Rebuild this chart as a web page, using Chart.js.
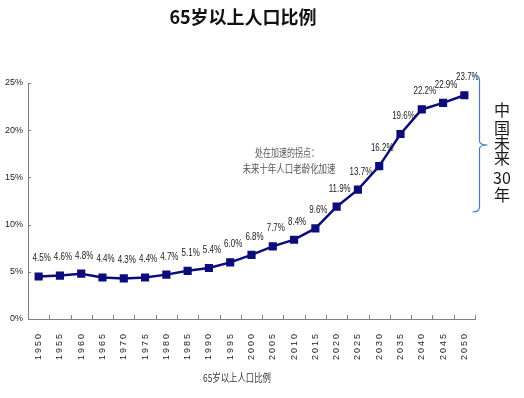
<!DOCTYPE html>
<html>
<head>
<meta charset="utf-8">
<script src="https://cdn.jsdelivr.net/npm/chart.js@4/dist/chart.umd.min.js"></script>
<style>
  html, body { margin: 0; padding: 0; background: #fff; }
  #wrap { width: 524px; height: 398px; }
</style>
</head>
<body>
<div id="wrap"><canvas id="ratioChart" width="524" height="398"></canvas></div>
<script>
const years = ['1950', '1955', '1960', '1965', '1970', '1975', '1980', '1985', '1990', '1995',
  '2000', '2005', '2010', '2015', '2020', '2025', '2030', '2035', '2040', '2045', '2050']
const share65 = [4.5, 4.6, 4.8, 4.4, 4.3, 4.4, 4.7, 5.1, 5.4, 6.0,
  6.8, 7.7, 8.4, 9.6, 11.9, 13.7, 16.2, 19.6, 22.2, 22.9, 23.7]
const yMax = 25
const yStep = 5

const chartTitle = '65岁以上人口比例'
const caption = '65岁以上人口比例'
const noteLines = ['处在加速的拐点：', '未来十年人口老龄化加速']
const braceLabel = ['中', '国', '未', '来', '30', '年']

const sans = '"Liberation Sans", Arial, sans-serif'
const cjk = '"Noto Sans CJK SC", "Noto Sans", sans-serif'

// texts, tick marks and the brace drawn on top of the chart
const decorations = {
  id: 'decorations',
  beforeDraw (chart) {
    // spaced digits for the rotated year labels
    chart.ctx.letterSpacing = '2px'
  },
  beforeDatasetsDraw (chart) {
    chart.ctx.letterSpacing = '0px'
  },
  afterDraw (chart) {
    const ctx = chart.ctx
    const x = chart.scales.x
    const y = chart.scales.y
    const area = chart.chartArea
    ctx.save()
    ctx.letterSpacing = '0px'

    // small inward ticks
    ctx.strokeStyle = '#808080'
    ctx.lineWidth = 1
    const half = (x.getPixelForValue(1) - x.getPixelForValue(0)) / 2
    for (let i = 0; i <= years.length; i++) {
      const px = Math.round(x.getPixelForValue(i) - half) + 0.5
      ctx.beginPath()
      ctx.moveTo(px, area.bottom)
      ctx.lineTo(px, area.bottom - 4)
      ctx.stroke()
    }
    for (const t of y.ticks) {
      const py = Math.round(y.getPixelForValue(t.value)) + 0.5
      ctx.beginPath()
      ctx.moveTo(area.left, py)
      ctx.lineTo(area.left + 3, py)
      ctx.stroke()
    }

    // value labels, squeezed like a narrow face
    const meta = chart.getDatasetMeta(0)
    ctx.font = '10.5px ' + sans
    ctx.fillStyle = '#1a1a1a'
    ctx.textAlign = 'center'
    ctx.textBaseline = 'middle'
    meta.data.forEach((pt, i) => {
      const txt = share65[i].toFixed(1) + '%'
      const w = ctx.measureText(txt).width * 0.76
      ctx.fillText(txt, pt.x + 3, pt.y - 18, w)
    })

    // title
    ctx.font = 'bold 18px ' + cjk
    ctx.fillStyle = '#111'
    ctx.fillText(chartTitle, 243, 17)

    // note
    ctx.font = '11px ' + cjk
    ctx.fillStyle = '#555'
    ctx.fillText(noteLines[0], 287, 153, 64)
    ctx.fillText(noteLines[1], 289, 169, 93)

    // caption under the axis
    ctx.fillStyle = '#333'
    ctx.fillText(caption, 237, 378, 68)

    // brace
    const bx = area.right + 4.5
    const top = 75
    const bottom = 212
    const mid = 145
    ctx.strokeStyle = '#4a78c2'
    ctx.lineWidth = 1.2
    ctx.beginPath()
    ctx.moveTo(bx - 6, top)
    ctx.quadraticCurveTo(bx, top, bx, top + 5)
    ctx.lineTo(bx, mid - 4)
    ctx.quadraticCurveTo(bx, mid, bx + 8, mid)
    ctx.moveTo(bx + 8, mid)
    ctx.quadraticCurveTo(bx, mid, bx, mid + 4)
    ctx.lineTo(bx, bottom - 5)
    ctx.quadraticCurveTo(bx, bottom, bx - 7, bottom)
    ctx.stroke()

    // vertical label
    ctx.font = '16px ' + cjk
    ctx.fillStyle = '#1a1a1a'
    const rows = [110, 128, 143, 158, 178, 195]
    braceLabel.forEach((s, i) => {
      ctx.fillText(s, 502, rows[i])
    })
    ctx.restore()
  }
}

new Chart(document.getElementById('ratioChart'), {
  type: 'line',
  data: {
    labels: years,
    datasets: [{
      data: share65,
      borderColor: '#0c0c7a',
      backgroundColor: '#0c0c7a',
      borderWidth: 2.5,
      pointStyle: 'rect',
      pointRadius: 4,
      pointHoverRadius: 4,
      tension: 0
    }]
  },
  options: {
    responsive: false,
    animation: false,
    events: [],
    layout: { padding: { top: 83, right: 49, left: 0, bottom: 0 } },
    plugins: {
      legend: { display: false },
      tooltip: { enabled: false }
    },
    scales: {
      x: {
        type: 'category',
        offset: true,
        grid: { display: false, offset: true, drawTicks: false },
        border: { display: true, color: '#808080', width: 1 },
        ticks: {
          autoSkip: false,
          minRotation: 90,
          maxRotation: 90,
          padding: 13,
          color: '#222',
          font: { family: sans, size: 9 }
        },
        afterFit (scale) { scale.height = 79 }
      },
      y: {
        min: 0,
        max: yMax,
        grid: { display: false, drawTicks: false },
        border: { display: true, color: '#808080', width: 1 },
        ticks: {
          stepSize: yStep,
          padding: 5,
          z: 1,
          color: '#222',
          font: { family: sans, size: 9 },
          callback: (v) => v + '%'
        },
        afterFit (scale) { scale.width = 28 }
      }
    }
  },
  plugins: [decorations]
})
</script>
</body>
</html>
